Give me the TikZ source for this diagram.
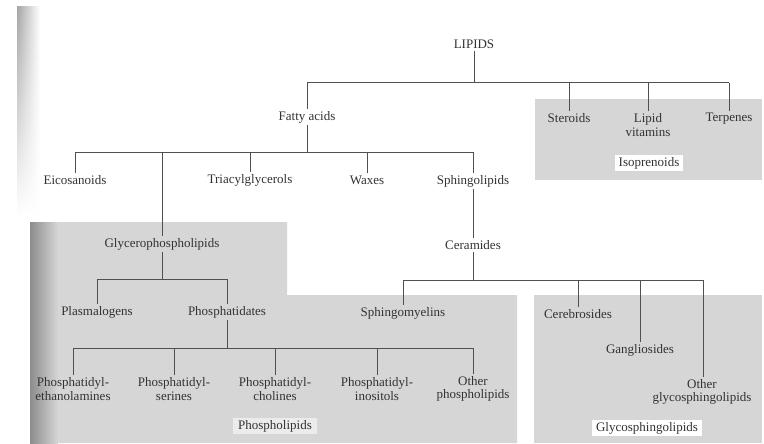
\documentclass[tikz,border=0pt]{standalone}
\usepackage{fontspec}
\setmainfont{Liberation Serif}
\usetikzlibrary{fadings}
\definecolor{boxgray}{RGB}{214,214,214}
\definecolor{txt}{RGB}{50,50,50}
\definecolor{ln}{RGB}{80,80,80}
\definecolor{lightpatch}{RGB}{236,236,236}
\tikzset{
  lbl/.style={font=\fontsize{13}{13.5}\selectfont, text=txt, align=center, inner sep=2pt},
  conn/.style={draw=ln, line width=1pt},
  region/.style={fill=boxgray, draw=none},
  tag/.style={lbl, fill=white, inner xsep=4pt, inner ysep=2.5pt},
}
\begin{document}
\begin{tikzpicture}[x=1pt,y=-1pt]
\useasboundingbox (0,0) rectangle (764,444);
\fill[white] (0,0) rectangle (764,444);
% scan artifact top-left
\shade[left color=black!35, right color=white, path fading=south] (17,7) rectangle (40,215);
% regions
\path[region] (30,222) -- (287,222) -- (287,295) -- (517,295) -- (517,443) -- (30,443) -- cycle;
\shade[left color=black!45, right color=boxgray] (30,222) rectangle (58,443);
\path[region] (535,99) rectangle (762,180);
\path[region] (534,295) rectangle (762,443);
% nodes
\node[lbl] (lipids) at (474,44) {LIPIDS};
\node[lbl] (fatty) at (307,117) {Fatty acids};
\node[lbl] (steroids) at (569,118) {Steroids};
\node[lbl] (lipvit) at (648,125) {Lipid\\vitamins};
\node[lbl] (terpenes) at (729,119) {Terpenes};
\node[tag] (isopren) at (649,163) {Isoprenoids};
\node[lbl] (eico) at (75,180) {Eicosanoids};
\node[lbl] (triacyl) at (250,180) {Triacylglycerols};
\node[lbl] (waxes) at (367,180) {Waxes};
\node[lbl] (sphingo) at (473,181) {Sphingolipids};
\node[lbl] (glycero) at (162,244) {Glycerophospholipids};
\node[lbl] (ceramides) at (473,245) {Ceramides};
\node[lbl] (plasmal) at (97,312) {Plasmalogens};
\node[lbl] (phosphat) at (227,312) {Phosphatidates};
\node[lbl] (sphingomy) at (403,313) {Sphingomyelins};
\node[lbl] (cerebro) at (578,314) {Cerebrosides};
\node[lbl] (ganglio) at (640,350) {Gangliosides};
\node[lbl] (otherglyco) at (702,392) {Other\\glycosphingolipids};
\node[lbl] (pe) at (73,389) {Phosphatidyl-\\ethanolamines};
\node[lbl] (ps) at (174,389) {Phosphatidyl-\\serines};
\node[lbl] (pc) at (275,389) {Phosphatidyl-\\cholines};
\node[lbl] (pi) at (377,389) {Phosphatidyl-\\inositols};
\node[lbl] (otherphos) at (473,389) {Other\\phospholipids};
\node[lbl, fill=lightpatch, inner xsep=5pt] (phospholab) at (275,426) {Phospholipids};
\node[tag] (glycosph) at (647,428) {Glycosphingolipids};
% bar coordinates
\coordinate (b1) at (474,83);
\coordinate (b2) at (307,152);
\coordinate (b3) at (162,279);
\coordinate (b4) at (473,280);
\coordinate (b5) at (227,348);
% LIPIDS tree
\draw[conn] (lipids.south) -- (lipids.south |- b1);
\draw[conn] (fatty.north |- b1) -- (terpenes.north |- b1);
\foreach \c in {fatty,steroids,lipvit,terpenes} \draw[conn] (\c.north) -- (\c.north |- b1);
% Fatty acids tree
\draw[conn] (fatty.south) -- (fatty.south |- b2);
\draw[conn] (eico.north |- b2) -- (sphingo.north |- b2);
\foreach \c in {eico,glycero,triacyl,waxes,sphingo} \draw[conn] (\c.north) -- (\c.north |- b2);
% Sphingolipids -> Ceramides
\draw[conn] (sphingo.south) -- (ceramides.north);
% Glycerophospholipids tree
\draw[conn] (glycero.south) -- (glycero.south |- b3);
\draw[conn] (plasmal.north |- b3) -- (phosphat.north |- b3);
\foreach \c in {plasmal,phosphat} \draw[conn] (\c.north) -- (\c.north |- b3);
% Ceramides tree
\draw[conn] (ceramides.south) -- (ceramides.south |- b4);
\draw[conn] (sphingomy.north |- b4) -- ([xshift=1pt]otherglyco.north |- b4);
\foreach \c in {sphingomy,cerebro,ganglio} \draw[conn] (\c.north) -- (\c.north |- b4);
\draw[conn] ([xshift=1pt]otherglyco.north) -- ([xshift=1pt]otherglyco.north |- b4);
% Phosphatidates tree
\draw[conn] (phosphat.south) -- (phosphat.south |- b5);
\draw[conn] (pe.north |- b5) -- (otherphos.north |- b5);
\foreach \c in {pe,ps,pc,pi,otherphos} \draw[conn] (\c.north) -- (\c.north |- b5);
\end{tikzpicture}
\end{document}
